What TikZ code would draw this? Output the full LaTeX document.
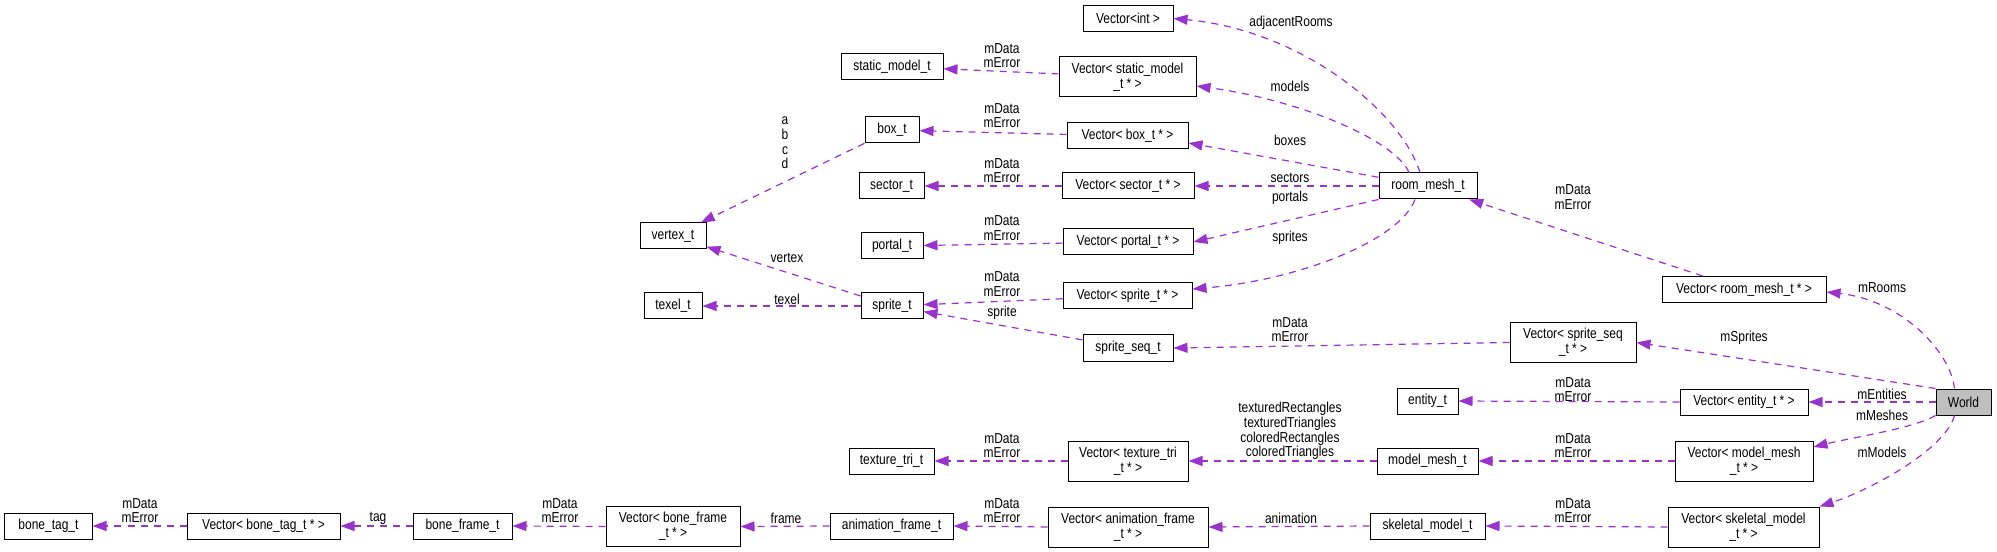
\documentclass[tikz,border=0pt]{standalone}
\usepackage{fontspec}
\setmainfont{Liberation Sans}[FakeStretch=0.83]
\usetikzlibrary{arrows.meta}
\definecolor{edgec}{RGB}{154,50,205}
\definecolor{worldgray}{RGB}{191,191,191}
\begin{document}
\begin{tikzpicture}[x=1bp,y=-1bp,
  every node/.style={font=\fontsize{14.5}{14.8}\selectfont},
  box/.style={draw=black, line width=1bp, fill=white, inner sep=0pt, minimum height=26bp, align=center},
  boxtwo/.style={box, minimum height=40bp},
  lab/.style={inner sep=0pt, align=center},
  edge/.style={draw=edgec, line width=1.2bp, dash pattern=on 7bp off 6bp, -{Triangle[length=14bp,width=10bp]}}]
\useasboundingbox (0,0) rectangle (1997,552);
\fill[white] (0,0) rectangle (1997,552);
% nodes
\node[box, minimum width=90bp] (vint) at (1128,18.5) {Vector<int >};
\node[box, minimum width=102bp] (smt) at (892,66.5) {static\_model\_t};
\node[boxtwo, minimum width=137bp] (vsmt) at (1127.5,77) {Vector< static\_model\\\_t * >};
\node[box, minimum width=54bp] (boxt) at (892,130) {box\_t};
\node[box, minimum width=121bp] (vbox) at (1127.5,136) {Vector< box\_t * >};
\node[box, minimum width=65bp] (sector) at (891.5,186) {sector\_t};
\node[box, minimum width=132bp] (vsector) at (1128,186) {Vector< sector\_t * >};
\node[box, minimum width=98bp] (room) at (1428,186) {room\_mesh\_t};
\node[box, minimum width=66bp] (vertex) at (673,236) {vertex\_t};
\node[box, minimum width=62bp] (portal) at (892,246) {portal\_t};
\node[box, minimum width=130bp] (vportal) at (1128,242) {Vector< portal\_t * >};
\node[box, minimum width=58bp] (texel) at (673,306) {texel\_t};
\node[box, minimum width=62bp] (sprite) at (892,306) {sprite\_t};
\node[box, minimum width=129bp] (vsprite) at (1127.5,296) {Vector< sprite\_t * >};
\node[box, minimum width=90bp] (spriteseq) at (1128,348) {sprite\_seq\_t};
\node[box, minimum width=164bp] (vroom) at (1744,289.5) {Vector< room\_mesh\_t * >};
\node[boxtwo, minimum width=126bp] (vspriteseq) at (1573,342.5) {Vector< sprite\_seq\\\_t * >};
\node[box, minimum width=55bp, fill=worldgray] (world) at (1963.5,402) {World};
\node[box, minimum width=61bp] (entity) at (1427.5,401) {entity\_t};
\node[box, minimum width=128bp] (ventity) at (1744,402) {Vector< entity\_t * >};
\node[box, minimum width=85bp] (texturetri) at (891.5,461) {texture\_tri\_t};
\node[boxtwo, minimum width=120bp] (vtexturetri) at (1128,461) {Vector< texture\_tri\\\_t * >};
\node[box, minimum width=101bp] (modelmesh) at (1427.5,461) {model\_mesh\_t};
\node[boxtwo, minimum width=138bp] (vmodelmesh) at (1744,461) {Vector< model\_mesh\\\_t * >};
\node[box, minimum width=87bp] (bonetag) at (48.5,526) {bone\_tag\_t};
\node[box, minimum width=153bp] (vbonetag) at (263.5,526) {Vector< bone\_tag\_t * >};
\node[box, minimum width=99bp] (boneframe) at (462.5,526) {bone\_frame\_t};
\node[boxtwo, minimum width=134bp] (vboneframe) at (673,526.5) {Vector< bone\_frame\\\_t * >};
\node[box, minimum width=123bp] (animframe) at (891.5,526) {animation\_frame\_t};
\node[boxtwo, minimum width=160bp] (vanimframe) at (1128,527) {Vector< animation\_frame\\\_t * >};
\node[box, minimum width=115bp] (skeletal) at (1427.5,526) {skeletal\_model\_t};
\node[boxtwo, minimum width=151bp] (vskeletal) at (1743.5,527) {Vector< skeletal\_model\\\_t * >};
% labels
\node[lab] (la1) at (1291,23) {adjacentRooms};
\node[lab] (la2) at (1002,55.5) {mData\\mError};
\node[lab] (la3) at (1290,86) {models};
\node[lab] (la4) at (1002,115.5) {mData\\mError};
\node[lab] (la5) at (785,143) {a\\b\\c\\d};
\node[lab] (la6) at (1290,140) {boxes};
\node[lab] (la7) at (1002,170.5) {mData\\mError};
\node[lab] (la8) at (1290,178) {sectors};
\node[lab] (la9) at (1290,198) {portals};
\node[lab] (la10) at (1573,197) {mData\\mError};
\node[lab] (la11) at (1002,228) {mData\\mError};
\node[lab] (la12) at (1290,238) {sprites};
\node[lab] (la13) at (787,258) {vertex};
\node[lab] (la14) at (1002,284) {mData\\mError};
\node[lab] (la15) at (787,299) {texel};
\node[lab] (la16) at (1882,288) {mRooms};
\node[lab] (la17) at (1002,313) {sprite};
\node[lab] (la18) at (1290,329.5) {mData\\mError};
\node[lab] (la19) at (1744,338) {mSprites};
\node[lab] (la20) at (1573,389.5) {mData\\mError};
\node[lab] (la21) at (1882,394.5) {mEntities};
\node[lab] (la22) at (1882,415) {mMeshes};
\node[lab] (la23) at (1290,431) {texturedRectangles\\texturedTriangles\\coloredRectangles\\coloredTriangles};
\node[lab] (la24) at (1002,445.5) {mData\\mError};
\node[lab] (la25) at (1573,445.5) {mData\\mError};
\node[lab] (la26) at (1882,452) {mModels};
\node[lab] (la27) at (140,510.5) {mData\\mError};
\node[lab] (la28) at (378,518) {tag};
\node[lab] (la29) at (560,510.5) {mData\\mError};
\node[lab] (la30) at (786,518) {frame};
\node[lab] (la31) at (1002,510.5) {mData\\mError};
\node[lab] (la32) at (1291,518) {animation};
\node[lab] (la33) at (1573,510.5) {mData\\mError};
% edges
\draw[edge] ([xshift=-8bp]room.north) .. controls (1400,110) and (1300,30) .. (vint.east);
\draw[edge] ([xshift=-19bp]room.north) .. controls (1395,140) and (1300,100) .. ([yshift=-9bp]vsmt.east);
\draw[edge] (room.170) -- ([yshift=-7bp]vbox.east);
\draw[edge] (room.west) -- (vsector.east);
\draw[edge] (room.south west) -- (vportal.east);
\draw[edge] ([xshift=-13bp]room.south) .. controls (1400,240) and (1300,280) .. ([yshift=7bp]vsprite.east);
\draw[edge] (vroom) -- (room);
\draw[edge] ([xshift=-9bp]world.north) .. controls (1950,350) and (1900,300) .. ([yshift=-2.5bp]vroom.east);
\draw[edge] (world.north west) -- (vspriteseq.east);
\draw[edge] (world.west) -- (ventity.east);
\draw[edge] (world.south west) .. controls (1915,428) and (1850,438) .. ([yshift=14bp]vmodelmesh.east);
\draw[edge] ([xshift=-9bp]world.south) .. controls (1945,450) and (1870,490) .. (vskeletal.north east);
\draw[edge] (ventity.west) -- (entity.east);
\draw[edge] (vmodelmesh.west) -- (modelmesh.east);
\draw[edge] (vskeletal.west) -- (skeletal.east);
\draw[edge] (modelmesh.west) -- (vtexturetri.east);
\draw[edge] (skeletal.west) -- (vanimframe.east);
\draw[edge] (vtexturetri.west) -- (texturetri.east);
\draw[edge] (vanimframe.west) -- (animframe.east);
\draw[edge] (animframe.west) -- (vboneframe.east);
\draw[edge] (vboneframe.west) -- (boneframe.east);
\draw[edge] (boneframe.west) -- (vbonetag.east);
\draw[edge] (vbonetag.west) -- (bonetag.east);
\draw[edge] (vspriteseq.west) -- (spriteseq.east);
\draw[edge] (spriteseq) -- (sprite);
\draw[edge] (vsprite) -- (sprite);
\draw[edge] (sprite.west) -- (texel.east);
\draw[edge] (sprite) -- (vertex);
\draw[edge] (boxt) -- (vertex);
\draw[edge] (vportal) -- (portal);
\draw[edge] (vsector.west) -- (sector.east);
\draw[edge] (vbox) -- (boxt);
\draw[edge] (vsmt) -- (smt);
\end{tikzpicture}
\end{document}
